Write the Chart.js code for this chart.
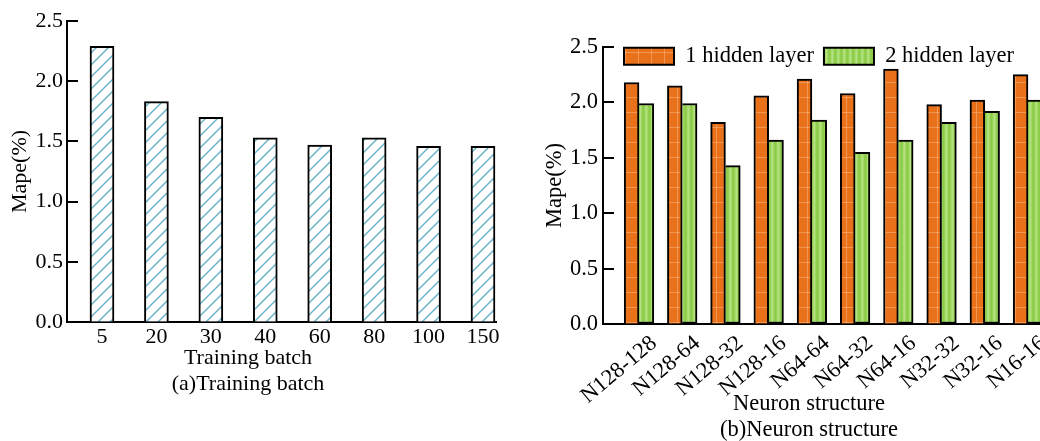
<!DOCTYPE html>
<html>
<head>
<meta charset="utf-8">
<title>Mape by training batch and neuron structure</title>
<script src="https://cdn.jsdelivr.net/npm/chart.js@4.4.1/dist/chart.umd.min.js"></script>
<style>
  html, body { margin: 0; padding: 0; background: #fff; overflow: hidden; }
  #wrap { position: relative; width: 1040px; height: 441px; overflow: hidden; }
  #chart-a { position: absolute; left: 0; top: 0; }
  #chart-b { position: absolute; left: 541px; top: 0; }
</style>
</head>
<body>
<div id="wrap">
  <canvas id="chart-a" width="592" height="460"></canvas>
  <canvas id="chart-b" width="556" height="460"></canvas>
</div>
<script>
// (a) training batch
const batchLabels = ['5', '20', '30', '40', '60', '80', '100', '150'];
const batchMape = [2.29, 1.83, 1.70, 1.53, 1.47, 1.53, 1.46, 1.46];

// (b) neuron structure
const neuronLabels = ['N128-128', 'N128-64', 'N128-32', 'N128-16', 'N64-64', 'N64-32', 'N64-16', 'N32-32', 'N32-16', 'N16-16'];
const oneLayerMape = [2.18, 2.15, 1.82, 2.06, 2.21, 2.08, 2.30, 1.98, 2.02, 2.25];
const twoLayerMape = [1.99, 1.99, 1.43, 1.66, 1.84, 1.55, 1.66, 1.82, 1.92, 2.02];

Chart.defaults.font.family = "'Liberation Serif', 'Times New Roman', serif";
Chart.defaults.font.size = 22;
Chart.defaults.color = '#000';
Chart.defaults.animation = false;

const ctxA = document.getElementById('chart-a').getContext('2d');
const ctxB = document.getElementById('chart-b').getContext('2d');

function makePattern(ctx, w, h, paint) {
    const tile = document.createElement('canvas');
    tile.width = w;
    tile.height = h;
    paint(tile.getContext('2d'), w, h);
    return ctx.createPattern(tile, 'repeat');
}

const hatchFill = makePattern(ctxA, 12, 12, (g, w, h) => {
    g.fillStyle = '#fff';
    g.fillRect(0, 0, w, h);
    g.strokeStyle = '#6cb5c8';
    g.lineWidth = 1.5;
    g.beginPath();
    g.moveTo(-1, h + 1); g.lineTo(w + 1, -1);
    g.moveTo(-1, 1); g.lineTo(1, -1);
    g.moveTo(w - 1, h + 1); g.lineTo(w + 1, h - 1);
    g.stroke();
});

const orangeFill = makePattern(ctxB, 13, 15, (g, w, h) => {
    g.fillStyle = '#e8711a';
    g.fillRect(0, 0, w, h);
    g.fillStyle = 'rgba(255, 196, 150, 0.45)';
    g.fillRect(6, 0, 1, h);
    g.fillRect(0, 7, w, 1);
});

const greenFill = makePattern(ctxB, 6, 4, (g, w, h) => {
    const cols = ['#8ccb48', '#96d254', '#a9dd70', '#b4e27e', '#a2d866', '#92cf50'];
    cols.forEach((c, i) => { g.fillStyle = c; g.fillRect(i, 0, 1, h); });
});

// short tick marks drawn inward from the y axis
const innerTicks = {
    id: 'innerTicks',
    afterDraw(chart) {
        const y = chart.scales.y;
        const area = chart.chartArea;
        const ctx = chart.ctx;
        ctx.save();
        ctx.strokeStyle = '#000';
        ctx.lineWidth = 2;
        ctx.beginPath();
        y.ticks.forEach((t, i) => {
            const py = Math.round(y.getPixelForTick(i));
            ctx.moveTo(area.left, py);
            ctx.lineTo(area.left + 11, py);
        });
        ctx.stroke();
        ctx.restore();
    }
};

// move the legend inside the plot area
const legendNudge = {
    id: 'legendNudge',
    afterLayout(chart, args, opts) {
        const lg = chart.legend;
        if (!lg) return;
        const area = chart.chartArea;
        lg.left = area.left + opts.dx;
        lg.top = area.top + opts.dy;
        lg.right = lg.left + 480;
        lg.bottom = lg.top + 50;
    }
};

function yScale(size, width, tickPad, titlePad) {
    return {
        min: 0,
        max: 2.5,
        grid: { drawOnChartArea: false, drawTicks: false },
        border: { color: '#000', width: 2 },
        ticks: { stepSize: 0.5, padding: tickPad, font: { size: size }, callback: v => v.toFixed(1) },
        title: { display: true, text: 'Mape(%)', font: { size: size }, padding: { top: titlePad, bottom: 0 } },
        afterFit: s => { s.width = width; }
    };
}

// two caption lines under the axis; negative top padding pulls them up over the tick area
function bottomTitle(lines, size, pullUp) {
    return {
        display: true,
        position: 'bottom',
        text: lines,
        color: '#000',
        font: { size: size, weight: 'normal', lineHeight: 26 / size },
        padding: { top: -pullUp, bottom: 0 }
    };
}

new Chart(ctxA, {
    type: 'bar',
    data: {
        datasets: [{
            label: 'Mape',
            data: batchMape.map((v, i) => ({ x: i, y: v })),
            backgroundColor: hatchFill,
            borderColor: '#000',
            borderWidth: 2,
            barThickness: 24
        }]
    },
    options: {
        responsive: false,
        layout: { padding: { left: 0, top: 21, right: 96, bottom: 63 } },
        plugins: {
            legend: { display: false },
            tooltip: { enabled: false },
            title: bottomTitle(['Training batch', '(a)Training batch'], 22, 17)
        },
        scales: {
            x: {
                type: 'linear',
                offset: false,
                min: -0.643,
                max: 7.239,
                grid: { offset: false, drawOnChartArea: false, drawTicks: false },
                border: { color: '#000', width: 2 },
                ticks: {
                    stepSize: 1, includeBounds: false, autoSkip: false, maxRotation: 0,
                    padding: 4, font: { size: 22, lineHeight: 1 },
                    callback: v => batchLabels[v] ?? ''
                },
                afterFit: s => { s.height = 40; }
            },
            y: yScale(22, 67, 4, 7.4)
        }
    },
    plugins: [innerTicks]
});

new Chart(ctxB, {
    type: 'bar',
    data: {
        datasets: [{
            label: '1 hidden layer',
            data: oneLayerMape.map((v, i) => ({ x: i, y: v })),
            backgroundColor: orangeFill,
            borderColor: '#000',
            borderWidth: 2,
            barThickness: 14.8
        }, {
            label: '2 hidden layer',
            data: twoLayerMape.map((v, i) => ({ x: i, y: v })),
            backgroundColor: greenFill,
            borderColor: '#000',
            borderWidth: 2,
            borderSkipped: 'left',
            barThickness: 14.8
        }]
    },
    options: {
        responsive: false,
        layout: { padding: { left: 0, top: 46, right: 20, bottom: 17 } },
        plugins: {
            legend: {
                position: 'top',
                align: 'start',
                maxHeight: 1,
                labels: { boxWidth: 50, boxHeight: 17, padding: 10, color: '#000', font: { size: 22.5 } }
            },
            legendNudge: { dx: 11, dy: -12 },
            tooltip: { enabled: false },
            title: bottomTitle(['Neuron structure', '(b)Neuron structure'], 22.5, 23)
        },
        scales: {
            x: {
                type: 'linear',
                offset: false,
                min: -0.833,
                max: 10.134,
                grid: { offset: false, drawOnChartArea: false, drawTicks: false },
                border: { color: '#000', width: 2 },
                ticks: {
                    stepSize: 1, includeBounds: false, autoSkip: false,
                    minRotation: 40, maxRotation: 40,
                    padding: 8, labelOffset: 15, font: { size: 22.5, lineHeight: 1 },
                    callback: v => neuronLabels[v] ?? ''
                },
                afterFit: s => { s.height = 90; }
            },
            y: yScale(22.5, 62, 5, 0.4)
        }
    },
    plugins: [innerTicks, legendNudge]
});
</script>
</body>
</html>
